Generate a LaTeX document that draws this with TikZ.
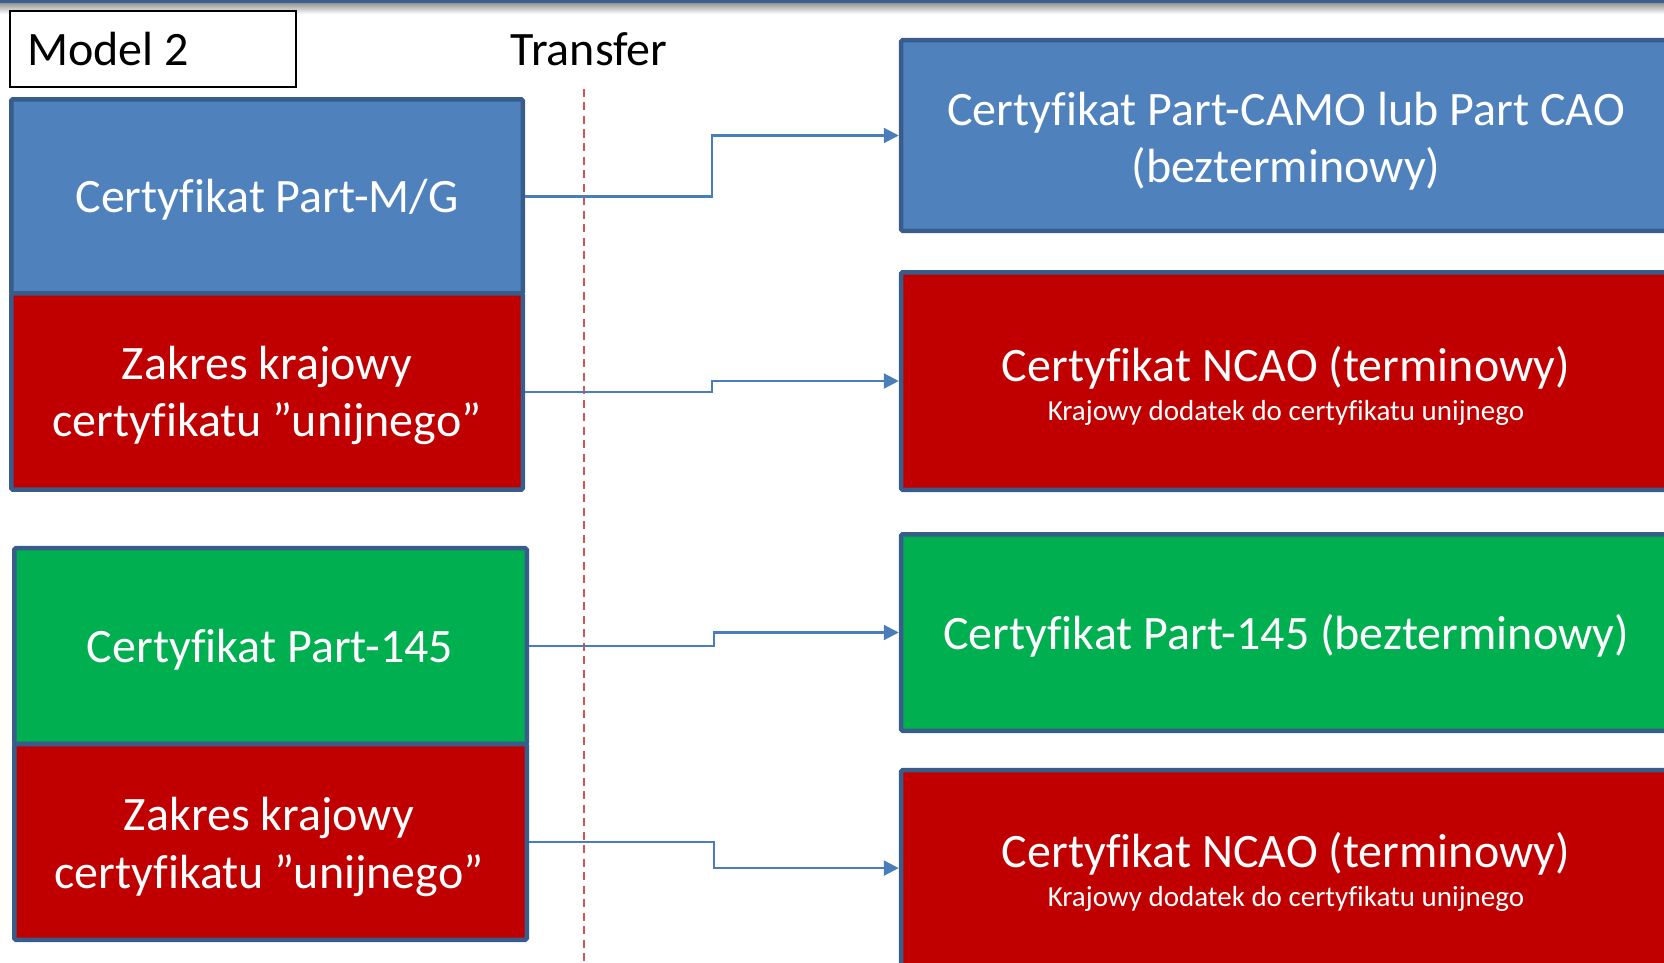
\documentclass[tikz,border=0pt]{standalone}
\usepackage{fontspec}
\setmainfont{Carlito}[Ligatures=NoCommon]
\usetikzlibrary{arrows.meta,calc}
\definecolor{boxblue}{HTML}{4F81BD}
\definecolor{edgeblue}{HTML}{385D8A}
\definecolor{boxred}{HTML}{C00000}
\definecolor{boxgreen}{HTML}{00B050}
\definecolor{linkblue}{HTML}{4A7EBB}
\definecolor{dashred}{RGB}{210,85,85}
\definecolor{topbar}{HTML}{3A5F8F}
\begin{document}
\begin{tikzpicture}[x=1pt,y=-1pt,
  cbox/.style={draw=edgeblue, line width=4.5pt, rounded corners=1.5pt, inner sep=0pt},
  bigtext/.style={text=white, font=\fontsize{48}{57.5}\selectfont, inner sep=0pt, align=center, anchor=base},
  smalltext/.style={text=white, font=\fontsize{29}{34}\selectfont, inner sep=0pt, anchor=base},
  headtext/.style={text=black, font=\fontsize{48}{57.5}\selectfont, inner sep=0pt},
  link/.style={draw=linkblue, line width=2.2pt, -{Triangle[length=15pt,width=15pt]}},
]
\useasboundingbox (0,0) rectangle (1664,963);
% top bar with shadow
\shade[top color=black!40, bottom color=white] (0,3.5) rectangle (1664,14);
\fill[topbar] (0,0) rectangle (1664,3.5);

% title box and heading
\node[draw=black, line width=2pt, fill=white, minimum width=286pt, minimum height=76pt, inner sep=0pt] (model) at (153,49) {};
\node[headtext, anchor=base west] (modeltxt) at (27,66) {Model 2};
\node[headtext, anchor=base] (transfer) at (589,66) {Transfer};

% dashed transfer line
\coordinate (dtop) at (584,89);
\coordinate (dbot) at (584,963);
\draw[dashred, line width=2.3pt, dash pattern=on 8pt off 5.5pt] (dtop) -- (dbot);

% left boxes
\node[cbox, fill=boxblue, minimum width=511.5pt, minimum height=194.25pt] (lb) at (267,196.4) {};
\node[cbox, fill=boxred, minimum width=511.5pt, minimum height=196.25pt] (lr1) at (267,391.6) {};
\node[cbox, fill=boxgreen, minimum width=512.5pt, minimum height=195.75pt] (lg) at (270.5,646.1) {};
\node[cbox, fill=boxred, minimum width=512.5pt, minimum height=195.75pt] (lr2) at (270.5,841.9) {};

% right boxes
\node[cbox, fill=boxblue, minimum width=771pt, minimum height=190.5pt] (rb) at (1286.5,135.5) {};
\node[cbox, fill=boxred, minimum width=771pt, minimum height=217.5pt] (rr1) at (1286.5,381) {};
\node[cbox, fill=boxgreen, minimum width=771pt, minimum height=196.5pt] (rg) at (1286.5,632.5) {};
\node[cbox, fill=boxred, minimum width=771pt, minimum height=195.75pt] (rr2) at (1286.5,868.1) {};

% texts (multi-line nodes: base = last line)
\node[bigtext] (lbt) at (267,212) {Certyfikat Part-M/G};
\node[bigtext] (lr1t) at (267,436.5) {Zakres krajowy\\certyfikatu ”unijnego”};
\node[bigtext] (lgt) at (270,662) {Certyfikat Part-145};
\node[bigtext] (lr2t) at (269,888) {Zakres krajowy\\certyfikatu ”unijnego”};
\node[bigtext] (rbt) at (1286,182.5) {Certyfikat Part-CAMO lub Part CAO\\(bezterminowy)};
\node[bigtext] (rr1t) at (1286,381) {Certyfikat NCAO (terminowy)};
\node[smalltext] (rr1s) at (1286,420) {Krajowy dodatek do certyfikatu unijnego};
\node[bigtext] (rgt) at (1286,649) {Certyfikat Part-145 (bezterminowy)};
\node[bigtext] (rr2t) at (1286,867) {Certyfikat NCAO (terminowy)};
\node[smalltext] (rr2s) at (1286,906) {Krajowy dodatek do certyfikatu unijnego};

% connectors
\draw[link] (lb.east) -| ($(lb.east)!0.5!(rb.west)$) |- (rb.west);
\draw[link] (lr1.east) -| ($(lr1.east)!0.5!(rr1.west)$) |- (rr1.west);
\draw[link] (lg.east) -| ($(lg.east)!0.5!(rg.west)$) |- (rg.west);
\draw[link] (lr2.east) -| ($(lr2.east)!0.5!(rr2.west)$) |- (rr2.west);
\end{tikzpicture}
\end{document}
